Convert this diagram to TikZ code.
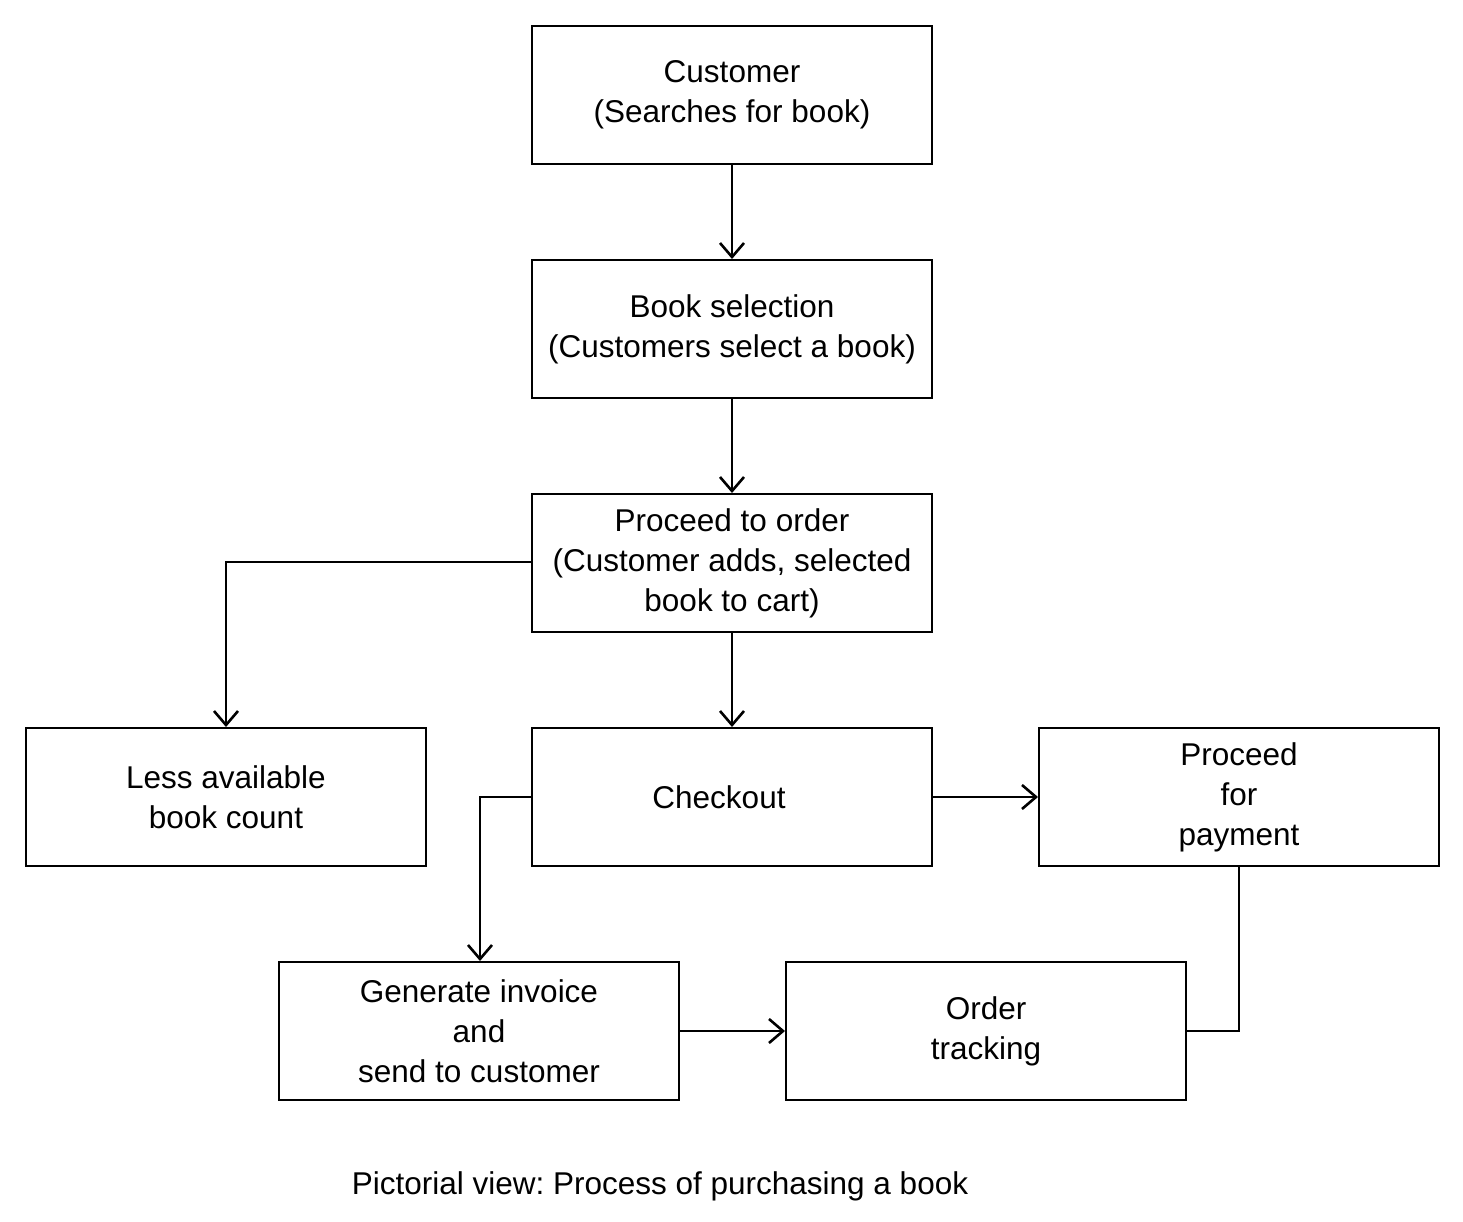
\documentclass[tikz,border=0pt]{standalone}
\usepackage{fontspec}
\setmainfont{Liberation Sans}
\usetikzlibrary{arrows.meta}
\frenchspacing
\begin{document}
\begin{tikzpicture}[x=1pt,y=-1pt,
  txt/.style={font=\fontsize{31.5}{40}\selectfont},
  box/.style={txt,draw,line width=2pt,minimum width=400pt,minimum height=138pt,anchor=north west,inner sep=0pt,align=center},
  conn/.style={line width=2pt},
  arr/.style={conn,-{Straight Barb[length=14pt,width=24pt,line width=2.6pt]}}]
\useasboundingbox (0,0) rectangle (1463,1222);
\node[box] (cust) at (531,25) {Customer\\(Searches for book)};
\node[box] (sel) at (531,259) {Book selection\\(Customers select a book)};
\node[box] (ord) at (531,493) {Proceed to order\\(Customer adds, selected\\book to cart)};
\node[box] (less) at (25,727) {Less available\\book count};
\node[box] (chk) at (531,727) {};
\node[txt] (chkt) at (719,797) {Checkout};
\node[box] (pay) at (1038,727) {Proceed\\for\\payment};
\node[box] (inv) at (278,961) {Generate invoice\\and\\send to customer};
\node[box] (trk) at (785,961) {Order\\tracking};
\node[txt] (cap) at (660,1186) {Pictorial view: Process of purchasing a book};
\coordinate (c1) at (226,562);
\coordinate (c2) at (480,797);
\coordinate (c3) at (1239,1031);
\draw[arr] (cust) -- (sel);
\draw[arr] (sel) -- (ord);
\draw[arr] (ord.south) -- (chk.north);
\draw[arr] (ord.west |- c1) -- (c1) -- (less.north -| c1);
\draw[arr] (chk.west |- c2) -- (c2) -- (inv.north -| c2);
\draw[arr] (chk.east |- c2) -- (pay.west |- c2);
\draw[arr] (inv.east |- c3) -- (trk.west |- c3);
\draw[conn] (pay.south -| c3) -- (c3) -- (trk.east |- c3);
\end{tikzpicture}
\end{document}
